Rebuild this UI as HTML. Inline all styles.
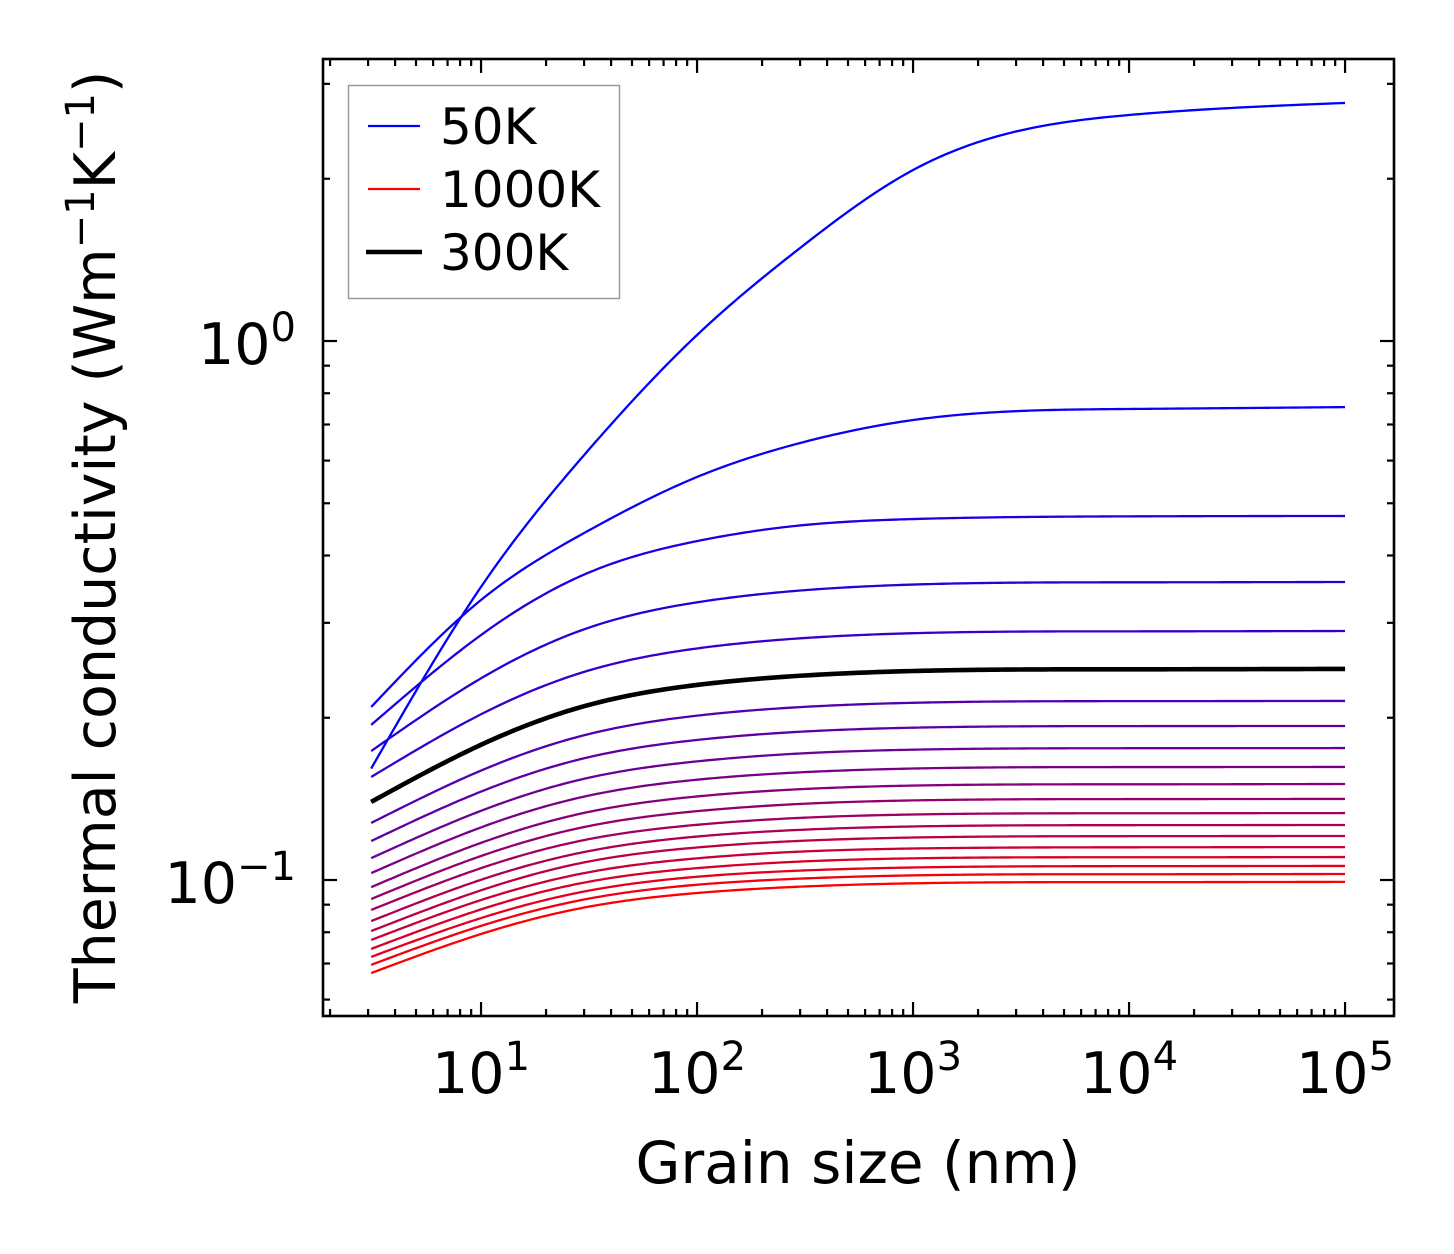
<!DOCTYPE html>
<html><head><meta charset="utf-8"><style>
html,body{margin:0;padding:0;background:#fff;}
svg{display:block;font-family:"DejaVu Sans","Liberation Sans",sans-serif;}
</style></head><body>
<svg id="chart" width="1454" height="1254" viewBox="0 0 1454 1254" xmlns="http://www.w3.org/2000/svg">
<rect x="0" y="0" width="1454" height="1254" fill="#fff"/>
<g id="series"></g>
<g id="ticks"></g>
<rect x="323" y="59" width="1071" height="957" fill="none" stroke="#000" stroke-width="2.6"/>
<g id="labels"></g>
<text x="858" y="1183" font-size="58" text-anchor="middle">Grain size (nm)</text>
<text transform="translate(115,537) rotate(-90)" font-size="57" text-anchor="middle">Thermal conductivity (Wm<tspan dy="-21" font-size="40">−1</tspan><tspan dy="21">K</tspan><tspan dy="-21" font-size="40">−1</tspan><tspan dy="21">)</tspan></text>
<g>
<rect x="348.5" y="85.5" width="271" height="213" fill="#fff" stroke="#999" stroke-width="1.5"/>
<g><line x1="368" y1="126" x2="420" y2="126" stroke="#0000ff" stroke-width="2.2"/><text x="440" y="144" font-size="50">50K</text></g>
<g><line x1="368" y1="189" x2="420" y2="189" stroke="#ff0000" stroke-width="2.2"/><text x="440" y="207" font-size="50">1000K</text></g>
<g><line x1="366" y1="252" x2="422" y2="252" stroke="#000" stroke-width="4.5"/><text x="440" y="270" font-size="50">300K</text></g>
</g>
</svg>
<script>
const grainSizes = [3.1, 10, 30, 100, 300, 1000, 10000, 100000];
const temperatures = [50,100,150,200,250,300,350,400,450,500,550,600,650,700,750,800,850,900,950,1000];
const k50 = [0.161,0.3498,0.6143,1.026,1.488,2.076,2.626,2.765];
const k100 = [0.2094,0.3308,0.4403,0.5594,0.6468,0.7135,0.748,0.754];
const k150 = [0.194,0.2848,0.3687,0.4254,0.4548,0.4674,0.4728,0.4736];
const k200 = [0.1735,0.2367,0.2918,0.3275,0.3444,0.3533,0.3567,0.3572];
const k250 = [0.1553,0.2030,0.2433,0.2689,0.2808,0.2870,0.2893,0.2897];
const k300 = [0.1396,0.1782,0.2101,0.2301,0.2393,0.2442,0.2460,0.2464];
const k350 = [0.1276,0.1596,0.1856,0.2018,0.2093,0.2132,0.2147,0.2149];
const k400 = [0.1181,0.1459,0.1682,0.1819,0.1884,0.1917,0.1930,0.1931];
const k450 = [0.1098,0.1344,0.1541,0.1660,0.1717,0.1745,0.1756,0.1757];
const k500 = [0.1030,0.1252,0.1428,0.1535,0.1584,0.1610,0.1620,0.1621];
const k550 = [0.0970,0.1172,0.1332,0.1429,0.1474,0.1497,0.1505,0.1507];
const k600 = [0.0922,0.1108,0.1254,0.1342,0.1384,0.1405,0.1413,0.1414];
const k650 = [0.0880,0.1052,0.1186,0.1266,0.1304,0.1323,0.1330,0.1331];
const k700 = [0.0839,0.1001,0.1127,0.1204,0.1239,0.1257,0.1264,0.1265];
const k750 = [0.0804,0.0957,0.1078,0.1149,0.1182,0.1199,0.1206,0.1207];
const k800 = [0.0774,0.0918,0.1030,0.1097,0.1129,0.1144,0.1150,0.1151];
const k850 = [0.0745,0.0882,0.0989,0.1052,0.1082,0.1097,0.1102,0.1103];
const k900 = [0.0720,0.0850,0.0952,0.1014,0.1041,0.1055,0.1061,0.1062];
const k950 = [0.0696,0.0822,0.0920,0.0980,0.1006,0.1020,0.1025,0.1026];
const k1000 = [0.0672,0.0794,0.0889,0.0946,0.0972,0.0986,0.0991,0.0992];
const seriesValues = [k50,k100,k150,k200,k250,k300,k350,k400,k450,k500,k550,k600,k650,k700,k750,k800,k850,k900,k950,k1000];
const xTickLabels = ["1","2","3","4","5"];
const yTickLabels = ["0","−1"];

const NS = "http://www.w3.org/2000/svg";
const X0 = 323, X1 = 1394, Y0 = 59, Y1 = 1016;
const xMinLog = Math.log10(1.855), xMaxLog = Math.log10(168500);
const yMinLog = -1.2523, yMaxLog = 0.5232;
function xs(v){ return X0 + (Math.log10(v) - xMinLog) / (xMaxLog - xMinLog) * (X1 - X0); }
function ys(v){ return Y1 - (Math.log10(v) - yMinLog) / (yMaxLog - yMinLog) * (Y1 - Y0); }

function splinePath(pts){
  const n = pts.length, X = pts.map(p=>p[0]), Y = pts.map(p=>p[1]);
  const h = [];
  for (let i = 0; i < n-1; i++) h.push(X[i+1]-X[i]);
  const a = new Array(n).fill(0), b = new Array(n).fill(1), c = new Array(n).fill(0), r = new Array(n).fill(0);
  for (let i = 1; i < n-1; i++) {
    a[i] = h[i-1]; b[i] = 2*(h[i-1]+h[i]); c[i] = h[i];
    r[i] = 6*((Y[i+1]-Y[i])/h[i] - (Y[i]-Y[i-1])/h[i-1]);
  }
  for (let i = 1; i < n; i++) { const w = a[i]/b[i-1]; b[i] -= w*c[i-1]; r[i] -= w*r[i-1]; }
  const M = new Array(n).fill(0);
  M[n-1] = r[n-1]/b[n-1];
  for (let i = n-2; i >= 0; i--) M[i] = (r[i]-c[i]*M[i+1])/b[i];
  M[0] = 0; M[n-1] = 0;
  let s = "M" + X[0].toFixed(2) + "," + Y[0].toFixed(2);
  for (let i = 0; i < n-1; i++) {
    const steps = Math.max(8, Math.round(h[i]/4));
    for (let k = 1; k <= steps; k++) {
      const x = X[i] + h[i]*k/steps;
      const A = (X[i+1]-x)/h[i], B = (x-X[i])/h[i];
      const y = A*Y[i] + B*Y[i+1] + ((A*A*A-A)*M[i] + (B*B*B-B)*M[i+1])*h[i]*h[i]/6;
      s += " L" + x.toFixed(2) + "," + y.toFixed(2);
    }
  }
  return s;
}

const gS = document.getElementById("series");
const n = temperatures.length;
temperatures.forEach((T, i) => {
  const t = i / (n - 1);
  const r = Math.round(255 * t), b = Math.round(255 * (1 - t));
  const pts = grainSizes.map((g, j) => [xs(g), ys(seriesValues[i][j])]);
  const p = document.createElementNS(NS, "path");
  p.setAttribute("d", splinePath(pts));
  p.setAttribute("fill", "none");
  p.setAttribute("stroke", "rgb(" + r + ",0," + b + ")");
  p.setAttribute("stroke-width", "2.3");
  p.setAttribute("stroke-linejoin", "round");
  
  
  gS.appendChild(p);
});
{
  const idx = temperatures.indexOf(300);
  const pts = grainSizes.map((g, j) => [xs(g), ys(seriesValues[idx][j])]);
  const p = document.createElementNS(NS, "path");
  p.setAttribute("d", splinePath(pts));
  p.setAttribute("fill", "none");
  p.setAttribute("stroke", "#000");
  p.setAttribute("stroke-width", "4.6");
  p.setAttribute("stroke-linejoin", "round");
  
  
  gS.appendChild(p);
}

const gT = document.getElementById("ticks");
function tick(x1,y1,x2,y2,w){
  const l = document.createElementNS(NS,"line");
  l.setAttribute("x1",x1);l.setAttribute("y1",y1);l.setAttribute("x2",x2);l.setAttribute("y2",y2);
  l.setAttribute("stroke","#000");l.setAttribute("stroke-width",w);
  
  
  gT.appendChild(l);
}
for (let e = 0; e <= 5; e++) {
  for (let m = 1; m <= 9; m++) {
    const v = m * Math.pow(10, e);
    const x = xs(v);
    if (x < X0 + 1 || x > X1 - 1) continue;
    const len = m === 1 ? 14 : 7;
    tick(x, Y1, x, Y1 - len, 2.2);
    tick(x, Y0, x, Y0 + len, 2.2);
  }
}
for (let e = -2; e <= 0; e++) {
  for (let m = 1; m <= 9; m++) {
    const v = m * Math.pow(10, e);
    const y = ys(v);
    if (y < Y0 + 1 || y > Y1 - 1) continue;
    const len = m === 1 ? 14 : 7;
    tick(X0, y, X0 + len, y, 2.2);
    tick(X1, y, X1 - len, y, 2.2);
  }
}

const gL = document.getElementById("labels");
xTickLabels.forEach((s) => {
  const x = xs(Math.pow(10, Number(s)));
  const t = document.createElementNS(NS,"text");
  t.setAttribute("x", x); t.setAttribute("y", 1093);
  t.setAttribute("font-size", "57"); t.setAttribute("text-anchor","middle");
  t.innerHTML = '10<tspan dy="-23" font-size="40">' + s + '</tspan>';
  
  
  gL.appendChild(t);
});
yTickLabels.forEach((s) => {
  const y = ys(Math.pow(10, Number(s.replace("−","-"))));
  const t = document.createElementNS(NS,"text");
  t.setAttribute("x", 296); t.setAttribute("y", y + 23);
  t.setAttribute("font-size", "57"); t.setAttribute("text-anchor","end");
  t.innerHTML = '10<tspan dy="-23" font-size="40">' + s + '</tspan>';
  
  
  gL.appendChild(t);
});
</script>
</body></html>
